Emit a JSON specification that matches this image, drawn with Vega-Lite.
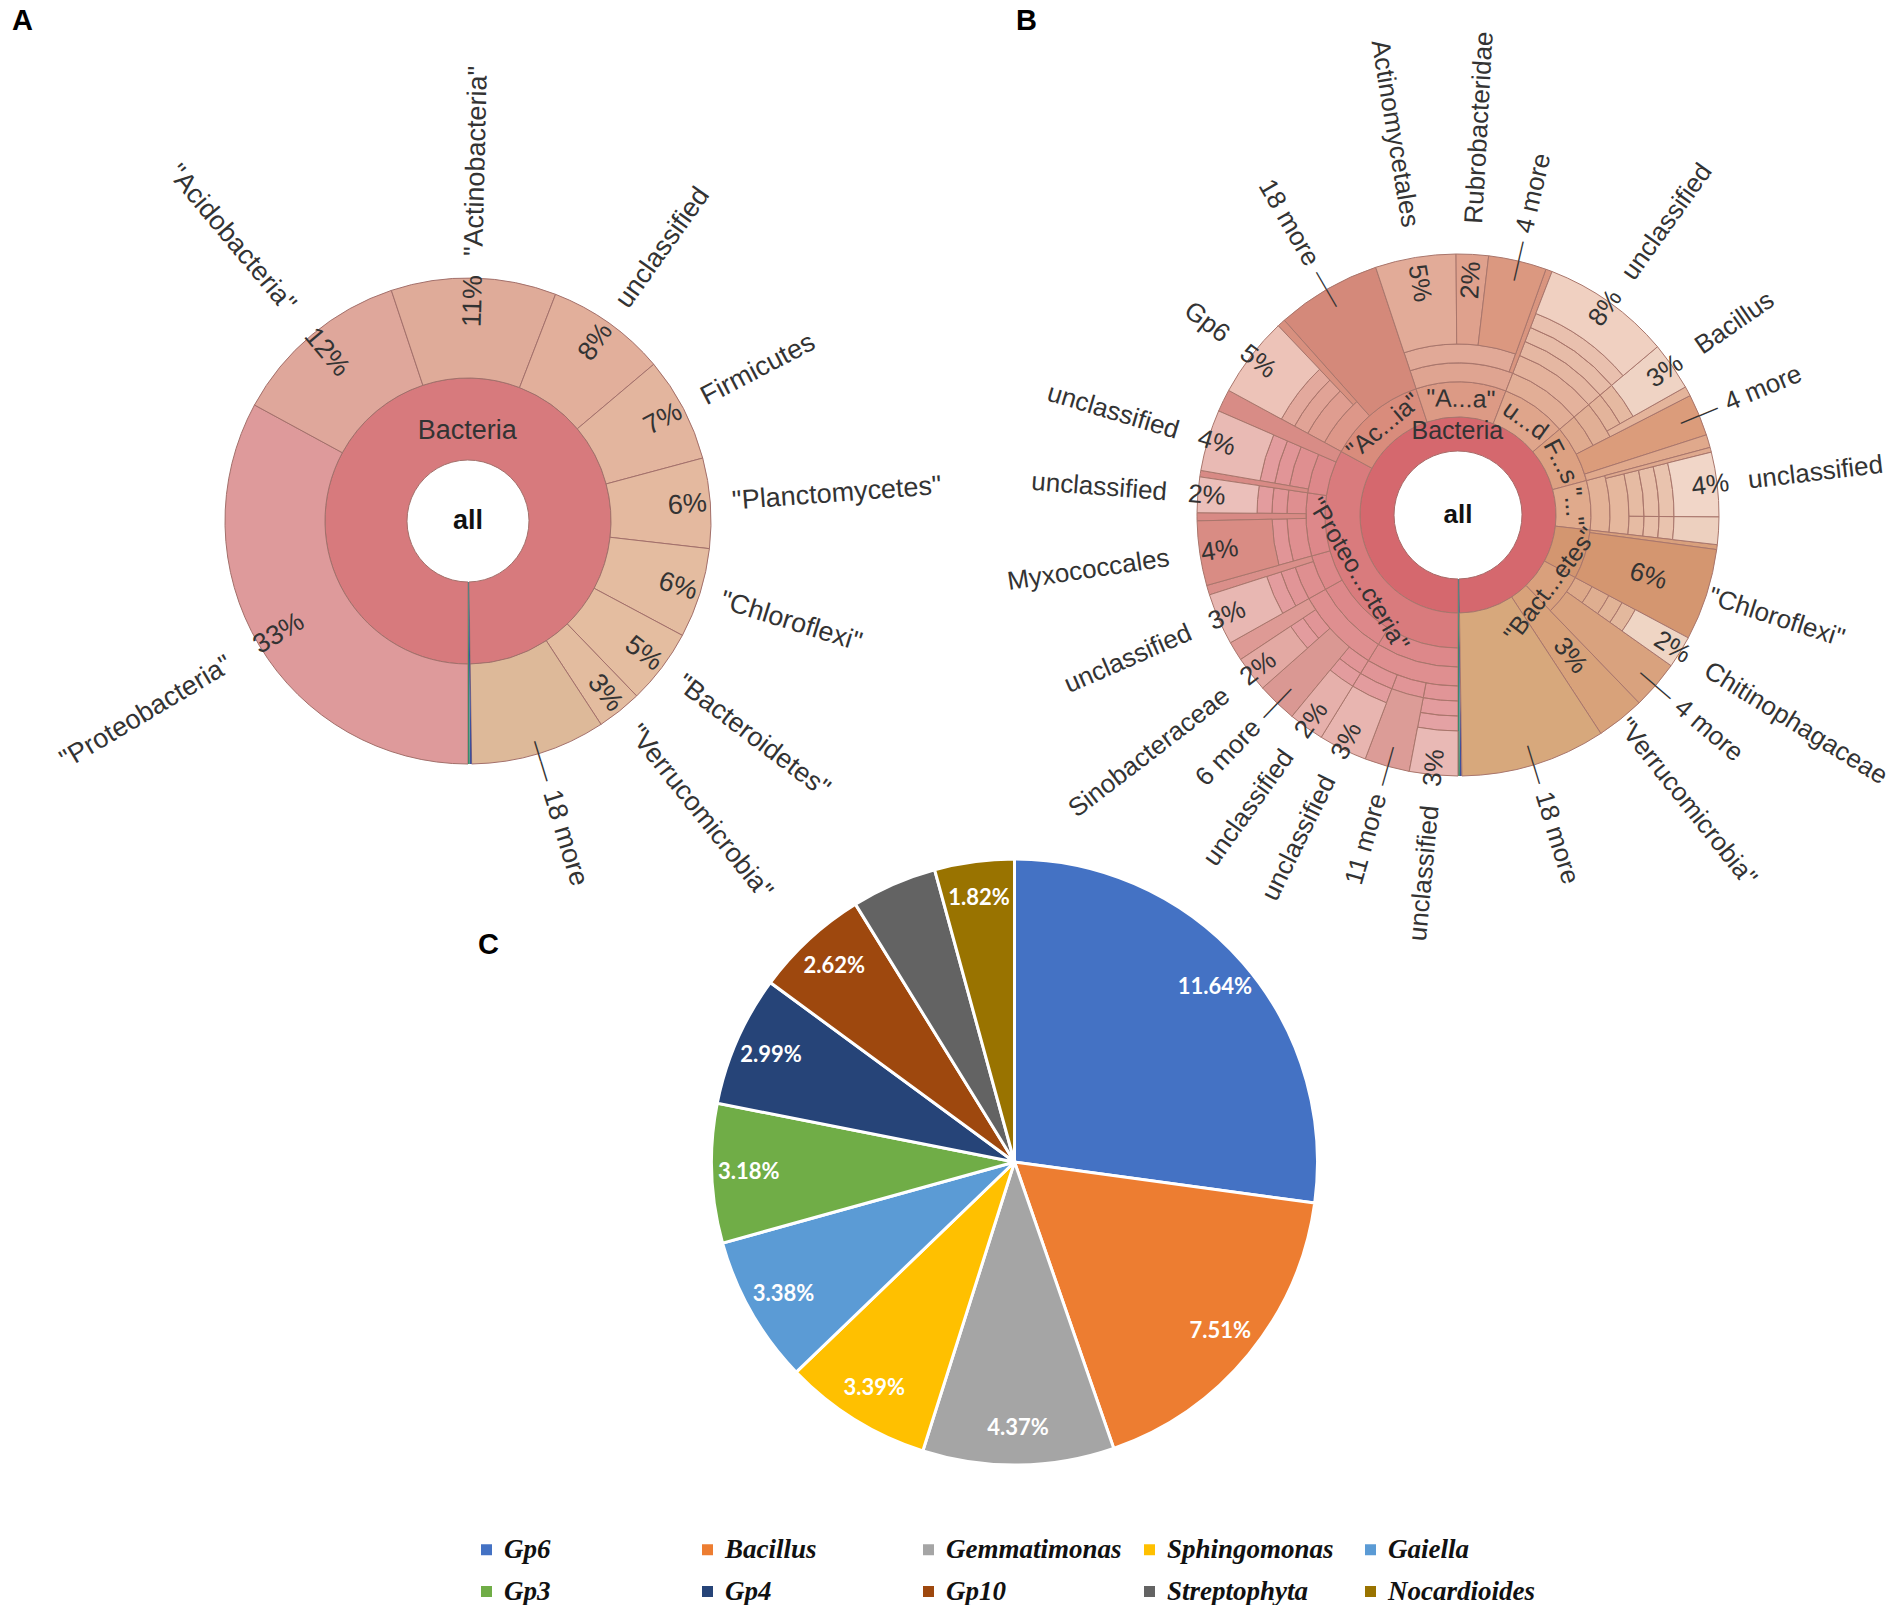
{
 "$schema": "https://vega.github.io/schema/vega-lite/v6.json",
 "background": "white",
 "padding": 0,
 "autosize": {"type": "pad"},
 "columns": 2,
 "spacing": {"row": 0, "column": 78},
 "bounds": "flush",
 "align": "each",
 "resolve": {"scale": {"color": "independent"}},
 "config": {
  "view": {"stroke": null},
  "text": {"font": "Liberation Sans", "color": "#333333", "baseline": "middle"},
  "title": {"font": "Liberation Sans", "fontSize": 29, "fontWeight": "bold", "color": "#000000", "anchor": "start", "frame": "group", "baseline": "alphabetic"}
 },
 "datasets": {
  "Aleaves": [
   {"i":1,"id":"a1","d":2,"pct":33,"lab":"\"Proteobacteria\"","pl":"33%"},
   {"i":2,"id":"a2","d":2,"pct":12,"lab":"\"Acidobacteria\"","pl":"12%"},
   {"i":3,"id":"a3","d":2,"pct":11,"lab":"\"Actinobacteria\"","pl":"11%"},
   {"i":4,"id":"a4","d":2,"pct":8,"lab":"unclassified","pl":"8%"},
   {"i":5,"id":"a5","d":2,"pct":7,"lab":"Firmicutes","pl":"7%"},
   {"i":6,"id":"a6","d":2,"pct":6,"lab":"\"Planctomycetes\"","pl":"6%"},
   {"i":7,"id":"a7","d":2,"pct":6,"lab":"\"Chloroflexi\"","pl":"6%"},
   {"i":8,"id":"a8","d":2,"pct":5,"lab":"\"Bacteroidetes\"","pl":"5%"},
   {"i":9,"id":"a9","d":2,"pct":3,"lab":"\"Verrucomicrobia\"","pl":"3%"},
   {"i":10,"id":"a10","d":2,"pct":9,"lab":"18 more","more":true},
   {"i":11,"id":"a11","d":1,"pct":0.12},
   {"i":12,"id":"a12","d":1,"pct":0.12}
  ],
  "Bleaves": [
   {"i":1,"id":"b1","phy":"Proteo","c":"Pa","d":8,"pct":3.0,"lab":"unclassified","pl":"3%"},
   {"i":2,"id":"b2","phy":"Proteo","c":"Pa","d":6,"pct":2.8,"lab":"11 more","more":true},
   {"i":3,"id":"b3","phy":"Proteo","c":"Pa","d":7,"pct":3.0,"lab":"unclassified","pl":"3%"},
   {"i":4,"id":"b4","phy":"Proteo","c":"Pb","d":7,"pct":2.2,"lab":"unclassified","pl":"2%"},
   {"i":5,"id":"b5","phy":"Proteo","c":"Pb","d":5,"pct":2.5,"lab":"6 more","more":true},
   {"i":6,"id":"b6","phy":"Proteo","c":"Pb","d":7,"pct":2.2,"lab":"Sinobacteraceae","pl":"2%"},
   {"i":7,"id":"b7","phy":"Proteo","c":"Pb","d":5,"pct":1.2},
   {"i":8,"id":"b8","phy":"Proteo","c":"Pc","d":7,"pct":3.2,"lab":"unclassified","pl":"3%"},
   {"i":9,"id":"b9","phy":"Proteo","c":"Pc","d":4,"pct":0.6},
   {"i":10,"id":"b10","phy":"Proteo","c":"Pd","d":6,"pct":4.0,"lab":"Myxococcales","pl":"4%"},
   {"i":11,"id":"b11","phy":"Proteo","c":"Pd","d":4,"pct":0.5},
   {"i":12,"id":"b12","phy":"Proteo","c":"Pd","d":7,"pct":2.2,"lab":"unclassified","pl":"2%"},
   {"i":13,"id":"b13","phy":"Proteo","c":"Pe","d":4,"pct":0.4},
   {"i":14,"id":"b14","phy":"Proteo","c":"Pe","d":7,"pct":3.8,"lab":"unclassified","pl":"4%"},
   {"i":15,"id":"b15","phy":"Proteo","c":"Pe","d":3,"pct":1.4},
   {"i":16,"id":"b16","phy":"Acido","c":"Ac","d":7,"pct":5.0,"lab":"Gp6","pl":"5%"},
   {"i":17,"id":"b17","phy":"Acido","c":"Ac","d":4,"pct":0.5},
   {"i":18,"id":"b18","phy":"Acido","c":"Ac","d":3,"pct":6.5,"lab":"18 more","more":true},
   {"i":19,"id":"b19","phy":"Actino","c":"At","d":5,"pct":5.0,"lab":"Actinomycetales","pl":"5%"},
   {"i":20,"id":"b20","phy":"Actino","c":"At","d":5,"pct":2.0,"lab":"Rubrobacteridae","pl":"2%"},
   {"i":21,"id":"b21","phy":"Actino","c":"At","d":5,"pct":3.6,"lab":"4 more","more":true},
   {"i":22,"id":"b22","phy":"Actino","c":"At","d":4,"pct":0.4},
   {"i":23,"id":"b23","phy":"Unc","c":"U","d":8,"pct":8.0,"lab":"unclassified","pl":"8%"},
   {"i":24,"id":"b24","phy":"Firm","c":"F","d":7,"pct":3.0,"lab":"Bacillus","pl":"3%"},
   {"i":25,"id":"b25","phy":"Firm","c":"F","d":5,"pct":0.6},
   {"i":26,"id":"b26","phy":"Firm","c":"F","d":3,"pct":2.6,"lab":"4 more","more":true},
   {"i":27,"id":"b27","phy":"Firm","c":"F","d":3,"pct":0.8},
   {"i":28,"id":"b28","phy":"Plancto","c":"Pl","d":4,"pct":0.3},
   {"i":29,"id":"b29","phy":"Plancto","c":"Pl","d":8,"pct":4.0,"lab":"unclassified","pl":"4%"},
   {"i":30,"id":"b30","phy":"Plancto","c":"Pl","d":8,"pct":1.7},
   {"i":31,"id":"b31","phy":"Chloro","c":"Ch","d":3,"pct":0.3},
   {"i":32,"id":"b32","phy":"Chloro","c":"Ch","d":3,"pct":5.7,"lab":"\"Chloroflexi\"","pl":"6%"},
   {"i":33,"id":"b33","phy":"Bactero","c":"Bc","d":7,"pct":2.0,"lab":"Chitinophagaceae","pl":"2%"},
   {"i":34,"id":"b34","phy":"Bactero","c":"Bc","d":3,"pct":3.0,"lab":"4 more","more":true},
   {"i":35,"id":"b35","phy":"Verruco","c":"V","d":2,"pct":3.0,"lab":"\"Verrucomicrobia\"","pl":"3%"},
   {"i":36,"id":"b36","phy":"More18","c":"M","d":2,"pct":9.0,"lab":"18 more","more":true},
   {"i":37,"id":"b37","phy":"Arch","c":"X","d":1,"pct":0.12},
   {"i":38,"id":"b38","phy":"Unk","c":"X","d":1,"pct":0.12}
  ],
  "Bphy": [
   {"phy":"Proteo","pk":"\"Proteo...cteria\""},
   {"phy":"Acido","pk":"\"Ac...ia\""},
   {"phy":"Actino","pk":"\"A...a\""},
   {"phy":"Unc","pk":"u...d"},
   {"phy":"Firm","pk":"F...s"},
   {"phy":"Plancto","pk":"\"...\""},
   {"phy":"Bactero","pk":"\"Bact...etes\""}
  ],
  "Cpie": [
   {"i":1,"name":"Gp6","v":11.64,"lab":"11.64%"},
   {"i":2,"name":"Bacillus","v":7.51,"lab":"7.51%"},
   {"i":3,"name":"Gemmatimonas","v":4.37,"lab":"4.37%"},
   {"i":4,"name":"Sphingomonas","v":3.39,"lab":"3.39%"},
   {"i":5,"name":"Gaiella","v":3.38,"lab":"3.38%"},
   {"i":6,"name":"Gp3","v":3.18,"lab":"3.18%"},
   {"i":7,"name":"Gp4","v":2.99,"lab":"2.99%"},
   {"i":8,"name":"Gp10","v":2.62,"lab":"2.62%"},
   {"i":9,"name":"Streptophyta","v":1.95,"lab":""},
   {"i":10,"name":"Nocardioides","v":1.82,"lab":"1.82%"}
  ]
 },
 "concat": [
    {
     "width": 936, "height": 1042,
     "title": {"text": "A", "offset": -36, "dx": 12},
     "data": {"name": "Aleaves"},
     "transform": [
      {"stack": "pct", "groupby": [], "sort": [{"field": "i", "order": "ascending"}], "as": ["s0", "s1"]},
      {"fold": ["s0", "s1"], "as": ["k", "v"]},
      {"joinaggregate": [{"op": "mean", "field": "v", "as": "m"}], "groupby": ["i"]},
      {"filter": "datum.k == 's0'"}
     ],
     "resolve": {"scale": {"angle": "independent"}},
     "layer": [
      {
       "transform": [{"filter": "datum.d >= 2"}, {"aggregate": [{"op": "min", "field": "s0", "as": "a0"}, {"op": "max", "field": "s1", "as": "a1"}]}],
       "mark": {"type": "arc", "radius": 143, "radius2": 61, "fill": "#D77A7D", "stroke": "#A3706B", "strokeWidth": 1},
       "encoding": {
        "theta": {"field": "a0", "type": "quantitative", "scale": {"type": "linear", "domain": [0, 100.24], "range": [3.141592653589793, 9.42477796076938], "zero": false, "nice": false}},
        "theta2": {"field": "a1"}
       }
      },
      {
       "transform": [{"filter": "datum.d == 2"}],
       "mark": {"type": "arc", "radius": 243, "radius2": 143, "stroke": "#A3706B", "strokeWidth": 1},
       "encoding": {
        "theta": {"field": "s0", "type": "quantitative", "scale": {"type": "linear", "domain": [0, 100.24], "range": [3.141592653589793, 9.42477796076938], "zero": false, "nice": false}},
        "theta2": {"field": "s1"},
        "color": {"field": "id", "type": "nominal", "legend": null, "scale": {"domain": ["a1","a2","a3","a4","a5","a6","a7","a8","a9","a10","a11","a12"], "range": ["#DE9A9B","#DFA79B","#DFAB99","#E2AF9B","#E3B59E","#E4B99F","#E4BCA0","#E4BDA0","#E3BC9F","#DDB999","#3D4F9E","#3A8A6A"]}}
       }
      },
      {
       "transform": [{"filter": "datum.d == 1"}],
       "mark": {"type": "arc", "radius": 243, "radius2": 61, "strokeWidth": 0},
       "encoding": {
        "theta": {"field": "s0", "type": "quantitative", "scale": {"type": "linear", "domain": [0, 100.24], "range": [3.141592653589793, 9.42477796076938], "zero": false, "nice": false}},
        "theta2": {"field": "s1"},
        "color": {"field": "id", "type": "nominal", "legend": null}
       }
      },
      {
       "transform": [{"filter": "datum.i == 1"}],
       "mark": {"type": "text", "text": "all", "fontSize": 27, "fontWeight": "bold", "color": "#111111"},
       "encoding": {}
      },
      {
       "transform": [{"filter": "datum.d >= 2"}, {"aggregate": [{"op": "min", "field": "s0", "as": "a0"}, {"op": "max", "field": "s1", "as": "a1"}]}, {"fold": ["a0", "a1"], "as": ["k2", "v2"]}, {"aggregate": [{"op": "mean", "field": "v2", "as": "bm"}]}],
       "mark": {"type": "text", "text": "Bacteria", "radius": 90, "fontSize": 27, "align": "center"},
       "encoding": {
        "theta": {"field": "bm", "type": "quantitative", "scale": {"type": "linear", "domain": [0, 100.24], "range": [3.141592653589793, 9.42477796076938], "zero": false, "nice": false}}
       }
      },
      {
       "transform": [{"filter": "datum.lab != null && !datum.more && datum.m >= 50.12"}],
       "mark": {"type": "text", "radius": 265, "align": "left", "fontSize": 27},
       "encoding": {
        "theta": {"field": "m", "type": "quantitative", "scale": {"type": "linear", "domain": [0, 100.24], "range": [3.141592653589793, 9.42477796076938], "zero": false, "nice": false}},
        "angle": {"field": "m", "type": "quantitative", "scale": {"domain": [0, 100.24], "range": [90, 450], "zero": false, "nice": false}},
        "text": {"field": "lab"}
       }
      },
      {
       "transform": [{"filter": "datum.lab != null && !datum.more && datum.m < 50.12"}],
       "mark": {"type": "text", "radius": 277, "align": "right", "fontSize": 27},
       "encoding": {
        "theta": {"field": "m", "type": "quantitative", "scale": {"type": "linear", "domain": [0, 100.24], "range": [3.141592653589793, 9.42477796076938], "zero": false, "nice": false}},
        "angle": {"field": "m", "type": "quantitative", "scale": {"domain": [0, 100.24], "range": [270, 630], "zero": false, "nice": false}},
        "text": {"field": "lab"}
       }
      },
      {
       "transform": [{"filter": "datum.pl != null && datum.m >= 50.12"}],
       "mark": {"type": "text", "radius": 220, "align": "center", "fontSize": 27},
       "encoding": {
        "theta": {"field": "m", "type": "quantitative", "scale": {"type": "linear", "domain": [0, 100.24], "range": [3.141592653589793, 9.42477796076938], "zero": false, "nice": false}},
        "angle": {"field": "m", "type": "quantitative", "scale": {"domain": [0, 100.24], "range": [90, 450], "zero": false, "nice": false}},
        "text": {"field": "pl"}
       }
      },
      {
       "transform": [{"filter": "datum.pl != null && datum.m < 50.12"}],
       "mark": {"type": "text", "radius": 220, "align": "center", "fontSize": 27},
       "encoding": {
        "theta": {"field": "m", "type": "quantitative", "scale": {"type": "linear", "domain": [0, 100.24], "range": [3.141592653589793, 9.42477796076938], "zero": false, "nice": false}},
        "angle": {"field": "m", "type": "quantitative", "scale": {"domain": [0, 100.24], "range": [270, 630], "zero": false, "nice": false}},
        "text": {"field": "pl"}
       }
      },
      {
       "transform": [{"filter": "datum.more && datum.m >= 50.12"}],
       "mark": {"type": "text", "radius": 282, "align": "left", "fontSize": 27},
       "encoding": {
        "theta": {"field": "m", "type": "quantitative", "scale": {"type": "linear", "domain": [0, 100.24], "range": [3.141592653589793, 9.42477796076938], "zero": false, "nice": false}},
        "angle": {"field": "m", "type": "quantitative", "scale": {"domain": [0, 100.24], "range": [90, 450], "zero": false, "nice": false}},
        "text": {"field": "lab"}
       }
      },
      {
       "transform": [{"filter": "datum.more && datum.m >= 50.12"}],
       "mark": {"type": "text", "text": "——", "radius": 230, "align": "left", "fontSize": 21},
       "encoding": {
        "theta": {"field": "m", "type": "quantitative", "scale": {"type": "linear", "domain": [0, 100.24], "range": [3.141592653589793, 9.42477796076938], "zero": false, "nice": false}},
        "angle": {"field": "m", "type": "quantitative", "scale": {"domain": [0, 100.24], "range": [90, 450], "zero": false, "nice": false}}
       }
      }
     ]
    },
    {
     "width": 888, "height": 1030,
     "title": {"text": "B", "offset": -36, "dx": 2},
     "data": {"name": "Bleaves"},
     "transform": [
      {"stack": "pct", "groupby": [], "sort": [{"field": "i", "order": "ascending"}], "as": ["s0", "s1"]},
      {"fold": ["s0", "s1"], "as": ["k", "v"]},
      {"joinaggregate": [{"op": "mean", "field": "v", "as": "m"}], "groupby": ["i"]},
      {"filter": "datum.k == 's0'"}
     ],
     "resolve": {"scale": {"angle": "independent", "radius": "independent"}},
     "layer": [
      {
       "transform": [{"filter": "datum.d >= 2"}, {"aggregate": [{"op": "min", "field": "s0", "as": "a0"}, {"op": "max", "field": "s1", "as": "a1"}]}],
       "mark": {"type": "arc", "radius": 98, "radius2": 64, "fill": "#D5686E", "stroke": "#A86A68", "strokeWidth": 1},
       "encoding": {
        "theta": {"field": "a0", "type": "quantitative", "scale": {"type": "linear", "domain": [0, 100.24], "range": [3.141592653589793, 9.42477796076938], "zero": false, "nice": false}},
        "theta2": {"field": "a1"}
       }
      },
      {
       "transform": [{"filter": "datum.d >= 3"}, {"aggregate": [{"op": "min", "field": "s0", "as": "a0"}, {"op": "max", "field": "s1", "as": "a1"}], "groupby": ["phy"]}],
       "mark": {"type": "arc", "radius": 133, "radius2": 98, "stroke": "#A9766C", "strokeWidth": 1},
       "encoding": {
        "theta": {"field": "a0", "type": "quantitative", "scale": {"type": "linear", "domain": [0, 100.24], "range": [3.141592653589793, 9.42477796076938], "zero": false, "nice": false}},
        "theta2": {"field": "a1"},
        "color": {"field": "phy", "type": "nominal", "legend": null, "scale": {
         "domain": ["Proteo","Acido","Actino","Unc","Firm","Plancto","Chloro","Bactero","Verruco","More18","Arch","Unk","b1","b2","b3","b4","b5","b6","b7","b8","b9","b10","b11","b12","b13","b14","b15","b16","b17","b18","b19","b20","b21","b22","b23","b24","b25","b26","b27","b28","b29","b30","b31","b32","b33","b34","b35","b36","b37","b38"],
         "range": ["#D97B7D","#D98C7C","#DC9A85","#DFA58B","#DCA182","#E0AA8C","#D39670","#D9A07C","#D7A17A","#D5A679","#3D4F9E","#3A8A6A","#E9B9B5","#DC9C97","#E8B5B0","#E6B0AB","#DA9893","#E3A9A3","#DE9A95","#E8B7B2","#DA8F8A","#D98C84","#D88A85","#EBBFBA","#D88A85","#E9BAB4","#D88C86","#EDC3B8","#D8907F","#D4897A","#E2AB98","#DFA18D","#DB9880","#D9957F","#F0D0C1","#EFD3C4","#E4B49B","#DB9C7B","#E0A98C","#DFA98E","#F1D6C8","#EDD0BF","#D9A07C","#D49670","#EFD5C4","#D9A27E","#D8A27A","#D7A87C","#3D4F9E","#3A8A6A"]}}
       }
      },
      {
       "transform": [{"filter": "datum.d >= 4"}, {"aggregate": [{"op": "min", "field": "s0", "as": "a0"}, {"op": "max", "field": "s1", "as": "a1"}], "groupby": ["c", "phy"]}],
       "mark": {"type": "arc", "radius": 152, "radius2": 133, "stroke": "#A9766C", "strokeWidth": 1, "fillOpacity": 0.9},
       "encoding": {
        "theta": {"field": "a0", "type": "quantitative", "scale": {"type": "linear", "domain": [0, 100.24], "range": [3.141592653589793, 9.42477796076938], "zero": false, "nice": false}},
        "theta2": {"field": "a1"},
        "color": {"field": "phy", "type": "nominal", "legend": null}
       }
      },
      {
       "transform": [{"filter": "datum.d >= 5"}, {"aggregate": [{"op": "min", "field": "s0", "as": "a0"}, {"op": "max", "field": "s1", "as": "a1"}], "groupby": ["c", "phy"]}],
       "mark": {"type": "arc", "radius": 171, "radius2": 152, "stroke": "#A9766C", "strokeWidth": 1, "fillOpacity": 0.85},
       "encoding": {
        "theta": {"field": "a0", "type": "quantitative", "scale": {"type": "linear", "domain": [0, 100.24], "range": [3.141592653589793, 9.42477796076938], "zero": false, "nice": false}},
        "theta2": {"field": "a1"},
        "color": {"field": "phy", "type": "nominal", "legend": null}
       }
      },
      {
       "transform": [{"filter": "datum.d >= 6"}],
       "mark": {"type": "arc", "radius": 186, "radius2": 171, "stroke": "#A9766C", "strokeWidth": 1, "fillOpacity": 0.8},
       "encoding": {
        "theta": {"field": "s0", "type": "quantitative", "scale": {"type": "linear", "domain": [0, 100.24], "range": [3.141592653589793, 9.42477796076938], "zero": false, "nice": false}},
        "theta2": {"field": "s1"},
        "color": {"field": "phy", "type": "nominal", "legend": null}
       }
      },
      {
       "transform": [{"filter": "datum.d >= 7"}],
       "mark": {"type": "arc", "radius": 201, "radius2": 186, "stroke": "#A9766C", "strokeWidth": 1, "fillOpacity": 0.75},
       "encoding": {
        "theta": {"field": "s0", "type": "quantitative", "scale": {"type": "linear", "domain": [0, 100.24], "range": [3.141592653589793, 9.42477796076938], "zero": false, "nice": false}},
        "theta2": {"field": "s1"},
        "color": {"field": "phy", "type": "nominal", "legend": null}
       }
      },
      {
       "transform": [{"filter": "datum.d >= 8"}],
       "mark": {"type": "arc", "radius": 216, "radius2": 201, "stroke": "#A9766C", "strokeWidth": 1, "fillOpacity": 0.7},
       "encoding": {
        "theta": {"field": "s0", "type": "quantitative", "scale": {"type": "linear", "domain": [0, 100.24], "range": [3.141592653589793, 9.42477796076938], "zero": false, "nice": false}},
        "theta2": {"field": "s1"},
        "color": {"field": "phy", "type": "nominal", "legend": null}
       }
      },
      {
       "transform": [{"filter": "datum.d == 1"}],
       "mark": {"type": "arc", "radius": 261, "radius2": 64, "strokeWidth": 0},
       "encoding": {
        "theta": {"field": "s0", "type": "quantitative", "scale": {"type": "linear", "domain": [0, 100.24], "range": [3.141592653589793, 9.42477796076938], "zero": false, "nice": false}},
        "theta2": {"field": "s1"},
        "color": {"field": "id", "type": "nominal", "legend": null}
       }
      },
      {
       "transform": [{"filter": "datum.d == 2"}],
       "mark": {"type": "arc", "radius": 261, "radius2": 98, "stroke": "#A9766C", "strokeWidth": 1},
       "encoding": {
        "theta": {"field": "s0", "type": "quantitative", "scale": {"type": "linear", "domain": [0, 100.24], "range": [3.141592653589793, 9.42477796076938], "zero": false, "nice": false}},
        "theta2": {"field": "s1"},
        "color": {"field": "id", "type": "nominal", "legend": null}
       }
      },
      {
       "transform": [{"filter": "datum.d == 3"}],
       "mark": {"type": "arc", "radius": 261, "radius2": 133, "stroke": "#A9766C", "strokeWidth": 1},
       "encoding": {
        "theta": {"field": "s0", "type": "quantitative", "scale": {"type": "linear", "domain": [0, 100.24], "range": [3.141592653589793, 9.42477796076938], "zero": false, "nice": false}},
        "theta2": {"field": "s1"},
        "color": {"field": "id", "type": "nominal", "legend": null}
       }
      },
      {
       "transform": [{"filter": "datum.d == 4"}],
       "mark": {"type": "arc", "radius": 261, "radius2": 152, "stroke": "#A9766C", "strokeWidth": 1},
       "encoding": {
        "theta": {"field": "s0", "type": "quantitative", "scale": {"type": "linear", "domain": [0, 100.24], "range": [3.141592653589793, 9.42477796076938], "zero": false, "nice": false}},
        "theta2": {"field": "s1"},
        "color": {"field": "id", "type": "nominal", "legend": null}
       }
      },
      {
       "transform": [{"filter": "datum.d == 5"}],
       "mark": {"type": "arc", "radius": 261, "radius2": 171, "stroke": "#A9766C", "strokeWidth": 1},
       "encoding": {
        "theta": {"field": "s0", "type": "quantitative", "scale": {"type": "linear", "domain": [0, 100.24], "range": [3.141592653589793, 9.42477796076938], "zero": false, "nice": false}},
        "theta2": {"field": "s1"},
        "color": {"field": "id", "type": "nominal", "legend": null}
       }
      },
      {
       "transform": [{"filter": "datum.d == 6"}],
       "mark": {"type": "arc", "radius": 261, "radius2": 186, "stroke": "#A9766C", "strokeWidth": 1},
       "encoding": {
        "theta": {"field": "s0", "type": "quantitative", "scale": {"type": "linear", "domain": [0, 100.24], "range": [3.141592653589793, 9.42477796076938], "zero": false, "nice": false}},
        "theta2": {"field": "s1"},
        "color": {"field": "id", "type": "nominal", "legend": null}
       }
      },
      {
       "transform": [{"filter": "datum.d == 7"}],
       "mark": {"type": "arc", "radius": 261, "radius2": 201, "stroke": "#A9766C", "strokeWidth": 1},
       "encoding": {
        "theta": {"field": "s0", "type": "quantitative", "scale": {"type": "linear", "domain": [0, 100.24], "range": [3.141592653589793, 9.42477796076938], "zero": false, "nice": false}},
        "theta2": {"field": "s1"},
        "color": {"field": "id", "type": "nominal", "legend": null}
       }
      },
      {
       "transform": [{"filter": "datum.d == 8"}],
       "mark": {"type": "arc", "radius": 261, "radius2": 216, "stroke": "#A9766C", "strokeWidth": 1},
       "encoding": {
        "theta": {"field": "s0", "type": "quantitative", "scale": {"type": "linear", "domain": [0, 100.24], "range": [3.141592653589793, 9.42477796076938], "zero": false, "nice": false}},
        "theta2": {"field": "s1"},
        "color": {"field": "id", "type": "nominal", "legend": null}
       }
      },
      {
       "transform": [{"filter": "datum.i == 1"}],
       "mark": {"type": "text", "text": "all", "fontSize": 26, "fontWeight": "bold", "color": "#111111"},
       "encoding": {}
      },
      {
       "transform": [{"filter": "datum.d >= 2"}, {"aggregate": [{"op": "min", "field": "s0", "as": "a0"}, {"op": "max", "field": "s1", "as": "a1"}]}, {"fold": ["a0", "a1"], "as": ["k2", "v2"]}, {"aggregate": [{"op": "mean", "field": "v2", "as": "bm"}]}],
       "mark": {"type": "text", "text": "Bacteria", "radius": 84, "fontSize": 25, "align": "center"},
       "encoding": {
        "theta": {"field": "bm", "type": "quantitative", "scale": {"type": "linear", "domain": [0, 100.24], "range": [3.141592653589793, 9.42477796076938], "zero": false, "nice": false}}
       }
      },
      {
       "transform": [{"filter": "datum.d >= 3"}, {"aggregate": [{"op": "min", "field": "s0", "as": "a0"}, {"op": "max", "field": "s1", "as": "a1"}], "groupby": ["phy"]}, {"fold": ["a0", "a1"], "as": ["k2", "v2"]}, {"aggregate": [{"op": "mean", "field": "v2", "as": "pm"}], "groupby": ["phy"]}, {"lookup": "phy", "from": {"data": {"name": "Bphy"}, "key": "phy", "fields": ["pk"]}}, {"filter": "datum.pk != null && datum.pm >= 25.06 && datum.pm <= 75.18"}],
       "mark": {"type": "text", "radius": 116, "fontSize": 25, "align": "center"},
       "encoding": {
        "theta": {"field": "pm", "type": "quantitative", "scale": {"type": "linear", "domain": [0, 100.24], "range": [3.141592653589793, 9.42477796076938], "zero": false, "nice": false}},
        "angle": {"field": "pm", "type": "quantitative", "scale": {"domain": [0, 100.24], "range": [180, 540], "zero": false, "nice": false}},
        "text": {"field": "pk"}
       }
      },
      {
       "transform": [{"filter": "datum.d >= 3"}, {"aggregate": [{"op": "min", "field": "s0", "as": "a0"}, {"op": "max", "field": "s1", "as": "a1"}], "groupby": ["phy"]}, {"fold": ["a0", "a1"], "as": ["k2", "v2"]}, {"aggregate": [{"op": "mean", "field": "v2", "as": "pm"}], "groupby": ["phy"]}, {"lookup": "phy", "from": {"data": {"name": "Bphy"}, "key": "phy", "fields": ["pk"]}}, {"filter": "datum.pk != null && (datum.pm < 25.06 || datum.pm > 75.18)"}],
       "mark": {"type": "text", "radius": 116, "fontSize": 25, "align": "center"},
       "encoding": {
        "theta": {"field": "pm", "type": "quantitative", "scale": {"type": "linear", "domain": [0, 100.24], "range": [3.141592653589793, 9.42477796076938], "zero": false, "nice": false}},
        "angle": {"field": "pm", "type": "quantitative", "scale": {"domain": [0, 100.24], "range": [0, 360], "zero": false, "nice": false}},
        "text": {"field": "pk"}
       }
      },
      {
       "transform": [{"filter": "datum.lab != null && !datum.more && datum.m >= 50.12"}],
       "mark": {"type": "text", "align": "left", "fontSize": 26},
       "encoding": {
        "theta": {"field": "m", "type": "quantitative", "scale": {"type": "linear", "domain": [0, 100.24], "range": [3.141592653589793, 9.42477796076938], "zero": false, "nice": false}},
        "radius": {"field": "d", "type": "quantitative", "scale": {"type": "linear", "domain": [2, 3, 4, 8], "range": [264, 264, 292, 292], "zero": false, "nice": false}},
        "angle": {"field": "m", "type": "quantitative", "scale": {"domain": [0, 100.24], "range": [90, 450], "zero": false, "nice": false}},
        "text": {"field": "lab"}
       }
      },
      {
       "transform": [{"filter": "datum.lab != null && !datum.more && datum.m < 50.12"}],
       "mark": {"type": "text", "align": "right", "fontSize": 26},
       "encoding": {
        "theta": {"field": "m", "type": "quantitative", "scale": {"type": "linear", "domain": [0, 100.24], "range": [3.141592653589793, 9.42477796076938], "zero": false, "nice": false}},
        "radius": {"field": "d", "type": "quantitative", "scale": {"type": "linear", "domain": [2, 3, 4, 8], "range": [264, 264, 292, 292], "zero": false, "nice": false}},
        "angle": {"field": "m", "type": "quantitative", "scale": {"domain": [0, 100.24], "range": [270, 630], "zero": false, "nice": false}},
        "text": {"field": "lab"}
       }
      },
      {
       "transform": [{"filter": "datum.pl != null && datum.m >= 50.12"}],
       "mark": {"type": "text", "align": "center", "fontSize": 26},
       "encoding": {
        "theta": {"field": "m", "type": "quantitative", "scale": {"type": "linear", "domain": [0, 100.24], "range": [3.141592653589793, 9.42477796076938], "zero": false, "nice": false}},
        "radius": {"field": "d", "type": "quantitative", "scale": {"type": "linear", "domain": [2, 3, 5, 6, 7, 8], "range": [180, 200, 235, 241, 252, 254], "zero": false, "nice": false}},
        "angle": {"field": "m", "type": "quantitative", "scale": {"domain": [0, 100.24], "range": [90, 450], "zero": false, "nice": false}},
        "text": {"field": "pl"}
       }
      },
      {
       "transform": [{"filter": "datum.pl != null && datum.m < 50.12"}],
       "mark": {"type": "text", "align": "center", "fontSize": 26},
       "encoding": {
        "theta": {"field": "m", "type": "quantitative", "scale": {"type": "linear", "domain": [0, 100.24], "range": [3.141592653589793, 9.42477796076938], "zero": false, "nice": false}},
        "radius": {"field": "d", "type": "quantitative", "scale": {"type": "linear", "domain": [2, 3, 5, 6, 7, 8], "range": [180, 200, 235, 241, 252, 254], "zero": false, "nice": false}},
        "angle": {"field": "m", "type": "quantitative", "scale": {"domain": [0, 100.24], "range": [270, 630], "zero": false, "nice": false}},
        "text": {"field": "pl"}
       }
      },
      {
       "transform": [{"filter": "datum.more && datum.m >= 50.12"}],
       "mark": {"type": "text", "radius": 290, "align": "left", "fontSize": 26},
       "encoding": {
        "theta": {"field": "m", "type": "quantitative", "scale": {"type": "linear", "domain": [0, 100.24], "range": [3.141592653589793, 9.42477796076938], "zero": false, "nice": false}},
        "angle": {"field": "m", "type": "quantitative", "scale": {"domain": [0, 100.24], "range": [90, 450], "zero": false, "nice": false}},
        "text": {"field": "lab"}
       }
      },
      {
       "transform": [{"filter": "datum.more && datum.m < 50.12"}],
       "mark": {"type": "text", "radius": 290, "align": "right", "fontSize": 26},
       "encoding": {
        "theta": {"field": "m", "type": "quantitative", "scale": {"type": "linear", "domain": [0, 100.24], "range": [3.141592653589793, 9.42477796076938], "zero": false, "nice": false}},
        "angle": {"field": "m", "type": "quantitative", "scale": {"domain": [0, 100.24], "range": [270, 630], "zero": false, "nice": false}},
        "text": {"field": "lab"}
       }
      },
      {
       "transform": [{"filter": "datum.more && datum.m >= 50.12"}],
       "mark": {"type": "text", "text": "——", "radius": 241, "align": "left", "fontSize": 20},
       "encoding": {
        "theta": {"field": "m", "type": "quantitative", "scale": {"type": "linear", "domain": [0, 100.24], "range": [3.141592653589793, 9.42477796076938], "zero": false, "nice": false}},
        "angle": {"field": "m", "type": "quantitative", "scale": {"domain": [0, 100.24], "range": [90, 450], "zero": false, "nice": false}}
       }
      },
      {
       "transform": [{"filter": "datum.more && datum.m < 50.12"}],
       "mark": {"type": "text", "text": "——", "radius": 241, "align": "right", "fontSize": 20},
       "encoding": {
        "theta": {"field": "m", "type": "quantitative", "scale": {"type": "linear", "domain": [0, 100.24], "range": [3.141592653589793, 9.42477796076938], "zero": false, "nice": false}},
        "angle": {"field": "m", "type": "quantitative", "scale": {"domain": [0, 100.24], "range": [270, 630], "zero": false, "nice": false}}
       }
      }
     ]
    },
    {"width": 1, "height": 1, "data": {"values": [{"z": 0}]}, "mark": {"type": "text", "text": " "}, "encoding": {}},
    {
     "width": 1, "height": 240,
     "title": {"text": "C", "offset": -107, "dx": -536},
     "data": {"name": "Cpie"},
     "layer": [
      {
       "mark": {"type": "arc", "radius": 303, "stroke": "white", "strokeWidth": 3},
       "encoding": {
        "theta": {"field": "v", "type": "quantitative", "stack": true},
        "order": {"field": "i", "type": "quantitative"},
        "color": {"field": "name", "type": "nominal",
         "scale": {"domain": ["Gp6","Bacillus","Gemmatimonas","Sphingomonas","Gaiella","Gp3","Gp4","Gp10","Streptophyta","Nocardioides"], "range": ["#4472C4","#ED7D31","#A5A5A5","#FFC000","#5B9BD5","#70AD47","#264478","#9E480E","#636363","#997300"]},
         "legend": {"orient": "none", "legendX": -541, "legendY": 494, "direction": "horizontal", "columns": 5, "title": null, "symbolType": "square", "symbolSize": 121, "symbolStrokeWidth": 0, "labelFont": "Liberation Serif", "labelFontSize": 27, "labelFontStyle": "italic", "labelFontWeight": "bold", "labelColor": "#111111", "labelLimit": 400, "labelOffset": 4, "columnPadding": 14, "rowPadding": 14, "gridAlign": "all", "padding": 0}}
       }
      },
      {
       "mark": {"type": "text", "radius": 266, "fontSize": 22, "font": "Lato", "fontWeight": "bold", "color": "white", "align": "center"},
       "encoding": {
        "theta": {"field": "v", "type": "quantitative", "stack": true},
        "order": {"field": "i", "type": "quantitative"},
        "text": {"field": "lab"}
       }
      }
     ]
    }
 ]
}
